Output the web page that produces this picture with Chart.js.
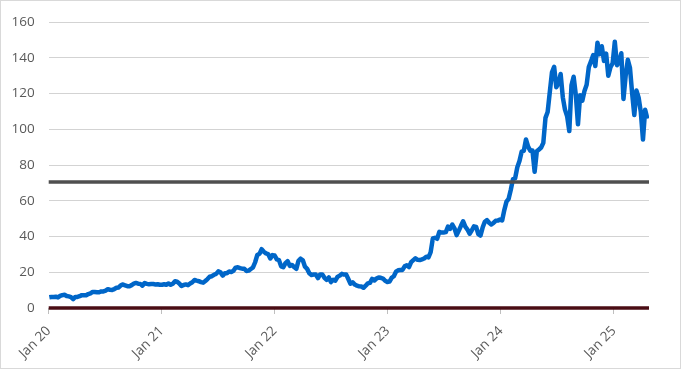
<!DOCTYPE html>
<html>
<head>
<meta charset="utf-8">
<script src="https://cdn.jsdelivr.net/npm/chart.js@4.4.1/dist/chart.umd.min.js"></script>
<style>
  html, body { margin: 0; padding: 0; background: #fff; }
  #wrap { position: relative; width: 681px; height: 369px; }
</style>
</head>
<body>
<div id="wrap"><canvas id="chart"></canvas></div>
<script>
// weekly closes (Friday)
const p2020 = [5.98, 6.2, 6.2, 6.3, 5.9, 6.75, 7.2, 7.4, 6.7, 6.5, 6.1, 5.0, 6.2,
    6.2, 6.6, 7.2, 7.1, 7.1, 7.8, 8.2, 9.0, 8.9, 8.8, 8.8, 9.3, 9.3,
    9.7, 10.5, 10.2, 10.1, 10.6, 11.3, 11.5, 12.7, 13.2, 12.6, 12.2, 12.2, 12.8,
    13.6, 14.0, 13.6, 13.5, 12.5, 14.0, 13.5, 13.3, 13.4, 13.4, 13.2, 13.3, 13.0];
const p2021 = [13.05, 13.3, 13.0, 13.7, 13.0, 13.6, 14.95, 14.7, 13.7, 12.3, 12.9, 13.2, 12.8,
    13.7, 14.4, 15.65, 15.3, 15.0, 14.5, 14.2, 15.1, 16.2, 17.5, 17.8, 18.6, 19.1,
    20.5, 20.0, 18.1, 19.5, 19.5, 20.4, 20.2, 20.8, 22.6, 22.8, 22.3, 22.0, 22.0,
    20.7, 20.9, 21.8, 22.7, 25.6, 29.7, 30.3, 32.9, 31.5, 30.6, 30.2, 27.7, 29.6, 29.4];
const p2022 = [27.2, 26.8, 23.3, 22.8, 25.1, 26.2, 23.6, 24.1, 22.9, 21.9, 26.4, 27.6,
    26.7, 23.1, 21.9, 19.5, 18.5, 18.7, 18.7, 16.7, 18.8, 18.8, 16.9, 15.8, 17.1,
    14.5, 15.8, 15.3, 17.4, 18.1, 19.1, 18.7, 18.8, 16.2, 13.6, 14.4, 13.1, 12.5, 12.1,
    12.0, 11.3, 12.5, 13.8, 14.1, 16.3, 15.4, 16.5, 17.1, 16.9, 16.5, 15.2, 14.6];
const p2023 = [14.8, 16.9, 17.8, 20.3, 21.1, 21.3, 21.3, 23.3, 23.9, 22.9, 25.7, 26.8, 27.8,
    27.0, 26.8, 27.2, 27.7, 28.7, 28.3, 31.2, 38.9, 39.3, 38.7, 42.6, 42.2, 42.3,
    42.5, 45.5, 44.3, 46.7, 44.6, 40.8, 43.3, 46.0, 48.5, 45.5, 43.9, 41.6, 43.5,
    45.7, 45.4, 41.3, 40.5, 45.0, 48.3, 49.2, 47.7, 46.7, 47.6, 48.8, 48.9, 49.5];
const p2024 = [49.0, 54.8, 59.5, 61.1, 66.2, 72.1, 72.6, 78.8, 82.2, 87.5, 87.9, 94.3, 90.3,
    88.0, 88.1, 76.2, 87.7, 88.7, 89.8, 92.4, 106.4, 109.7, 120.9, 131.9, 135.0, 123.5,
    125.8, 131.0, 117.9, 111.0, 107.3, 99.0, 124.6, 129.4, 119.4, 102.8, 119.1, 116.0, 121.4,
    124.9, 134.8, 138.0, 141.5, 135.4, 148.5, 142.0, 146.5, 138.3, 142.4, 130.0, 134.7, 137.0];
const p2025 = [149.0, 135.9, 137.7, 142.6, 117.0, 129.8, 138.9, 134.4, 120.2, 108.0, 121.7, 117.7,
    109.7, 94.3, 110.9, 106.0];

const refLevel = 70.5;
const zeroLevel = 0;
const yTicks = [0, 20, 40, 60, 80, 100, 120, 140, 160];
const xStart = 2020, xEnd = 2025.31;

const weekly = [...p2020, ...p2021, ...p2022, ...p2023, ...p2024, ...p2025];
// first close is Fri 3 Jan 2020, one point per week after that
const series = weekly.map((v, i) => ({x: xStart + (2 + 7 * i) / 365.25, y: v}));

const frame = {
    id: "frame",
    beforeDraw(chart) {
        const c = chart.ctx;
        c.save();
        c.fillStyle = "#fff";
        c.fillRect(0, 0, chart.width, chart.height);
        c.restore();
    },
    afterDraw(chart) {
        const c = chart.ctx;
        c.save();
        c.strokeStyle = "#d9d9d9";
        c.lineWidth = 1;
        c.strokeRect(0.5, 0.5, chart.width - 1, chart.height - 1);
        c.restore();
    },
};

const font = {family: "'Open Sans', 'Liberation Sans', sans-serif", size: 13.5};

new Chart(document.getElementById("chart"), {
    type: "line",
    data: {
        datasets: [
            {
                data: series,
                borderColor: "#0066c8",
                borderWidth: 4.5,
                borderJoinStyle: "round",
                pointRadius: 0,
                tension: 0,
                order: 2,
            },
            {
                data: [{x: xStart, y: refLevel}, {x: xEnd, y: refLevel}],
                borderColor: "#4f4f4f",
                borderWidth: 3.5,
                pointRadius: 0,
                clip: false,
                order: 1,
            },
            {
                data: [{x: xStart, y: zeroLevel}, {x: xEnd, y: zeroLevel}],
                borderColor: "#4a0d14",
                borderWidth: 3.5,
                pointRadius: 0,
                clip: false,
                order: 0,
            },
        ],
    },
    options: {
        responsive: true,
        maintainAspectRatio: false,
        animation: false,
        layout: {padding: {top: 19, right: 32, left: 0, bottom: 0}},
        plugins: {
            legend: {display: false},
            tooltip: {enabled: false},
        },
        scales: {
            x: {
                type: "linear",
                min: xStart,
                max: xEnd,
                afterFit: (s) => { s.height = 61; },
                border: {display: false},
                grid: {
                    drawOnChartArea: false,
                    drawTicks: true,
                    tickLength: 6,
                    color: "#bfbfbf",
                },
                ticks: {
                    stepSize: 1,
                    includeBounds: false,
                    autoSkip: false,
                    maxRotation: 45,
                    minRotation: 45,
                    padding: 9,
                    color: "#595959",
                    font,
                    callback: (v) => Number.isInteger(v) ? "Jan " + String(v).slice(2) : null,
                },
            },
            y: {
                min: yTicks[0],
                max: yTicks[yTicks.length - 1],
                afterFit: (s) => { s.width = 48.7; },
                afterBuildTicks: (s) => { s.ticks = yTicks.map(v => ({value: v})); },
                border: {display: false},
                grid: {color: "#d3d3d3", lineWidth: 1, drawTicks: false},
                ticks: {
                    padding: 14,
                    color: "#595959",
                    font,
                },
            },
        },
    },
    plugins: [frame],
});
</script>
</body>
</html>
